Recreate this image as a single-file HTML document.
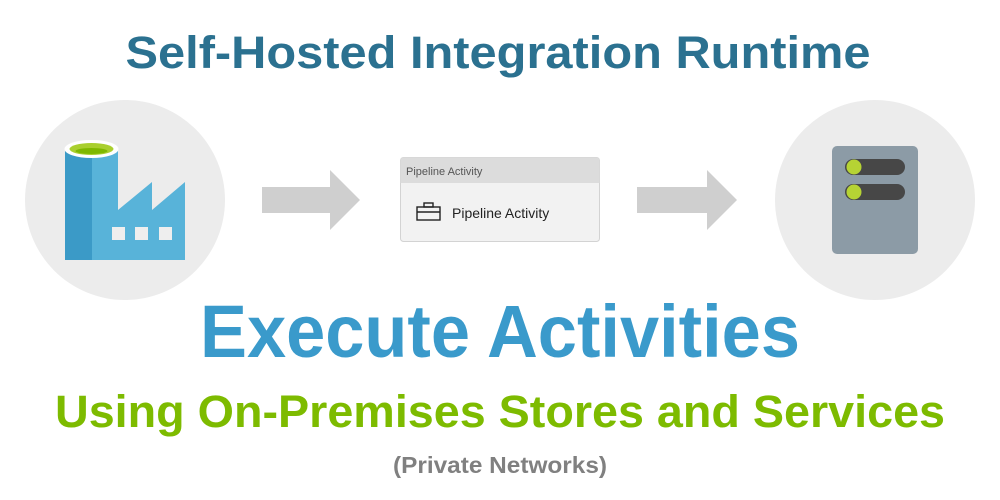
<!DOCTYPE html>
<html><head><meta charset="utf-8"><style>
html,body{margin:0;padding:0;background:#fff;width:1000px;height:500px;overflow:hidden}
</style></head><body>
<svg width="1000" height="500" viewBox="0 0 1000 500" xmlns="http://www.w3.org/2000/svg">
<rect width="1000" height="500" fill="#fff"/>
<text x="498" y="68" text-anchor="middle" font-family="Liberation Sans, sans-serif" font-weight="bold" font-size="45" fill="#2b7190" textLength="745" lengthAdjust="spacingAndGlyphs">Self-Hosted Integration Runtime</text>

<circle cx="125" cy="200" r="100" fill="#ececec"/>
<rect x="65" y="150" width="27" height="110" fill="#3b9ac7"/>
<rect x="92" y="150" width="26" height="110" fill="#58b3d9"/>
<polygon points="118,210 152,182 152,210 185,182 185,260 118,260" fill="#58b3d9"/>
<rect x="112" y="227" width="13" height="13" fill="#eeeeee"/>
<rect x="135" y="227" width="13" height="13" fill="#eeeeee"/>
<rect x="159" y="227" width="13" height="13" fill="#eeeeee"/>
<ellipse cx="91.5" cy="149" rx="27" ry="9" fill="#fff"/>
<ellipse cx="91.5" cy="149" rx="22" ry="6" fill="#a9cf2e"/>
<ellipse cx="91.5" cy="151" rx="16" ry="3" fill="#7fb800"/>

<polygon points="262,187 330,187 330,170 360,200 330,230 330,213 262,213" fill="#cfcfcf"/>
<polygon points="637,187 707,187 707,170 737,200 707,230 707,213 637,213" fill="#cfcfcf"/>

<rect x="400.5" y="157.5" width="199" height="84" rx="3" fill="#f2f2f2" stroke="#d3d3d3"/>
<path d="M400.5,183 V160.5 a3,3 0 0 1 3,-3 H596.5 a3,3 0 0 1 3,3 V183 Z" fill="#dcdcdc"/>
<text x="406" y="175" font-family="Liberation Sans, sans-serif" font-size="11" fill="#555">Pipeline Activity</text>
<g fill="none" stroke="#222" stroke-width="1.4">
<rect x="417" y="207" width="23" height="13"/>
<rect x="424" y="203" width="9" height="4"/>
<line x1="417" y1="212" x2="440" y2="212"/>
</g>
<text x="452" y="218" font-family="Liberation Sans, sans-serif" font-size="14" fill="#222">Pipeline Activity</text>

<circle cx="875" cy="200" r="100" fill="#ececec"/>
<rect x="832" y="146" width="86" height="108" rx="5" fill="#8c9ba6"/>
<rect x="845" y="159" width="60" height="16" rx="8" fill="#474747"/>
<rect x="845" y="184" width="60" height="16" rx="8" fill="#474747"/>
<circle cx="854" cy="167" r="7.5" fill="#b6d334"/>
<circle cx="854" cy="192" r="7.5" fill="#b6d334"/>

<text x="500" y="357" text-anchor="middle" font-family="Liberation Sans, sans-serif" font-weight="bold" font-size="74" fill="#3a9acb" textLength="600" lengthAdjust="spacingAndGlyphs">Execute Activities</text>
<text x="500" y="427" text-anchor="middle" font-family="Liberation Sans, sans-serif" font-weight="bold" font-size="45" fill="#7dbb00" textLength="890" lengthAdjust="spacingAndGlyphs">Using On-Premises Stores and Services</text>
<text x="500" y="473" text-anchor="middle" font-family="Liberation Sans, sans-serif" font-weight="bold" font-size="23" fill="#808080" textLength="214" lengthAdjust="spacingAndGlyphs">(Private Networks)</text>
</svg>
</body></html>
